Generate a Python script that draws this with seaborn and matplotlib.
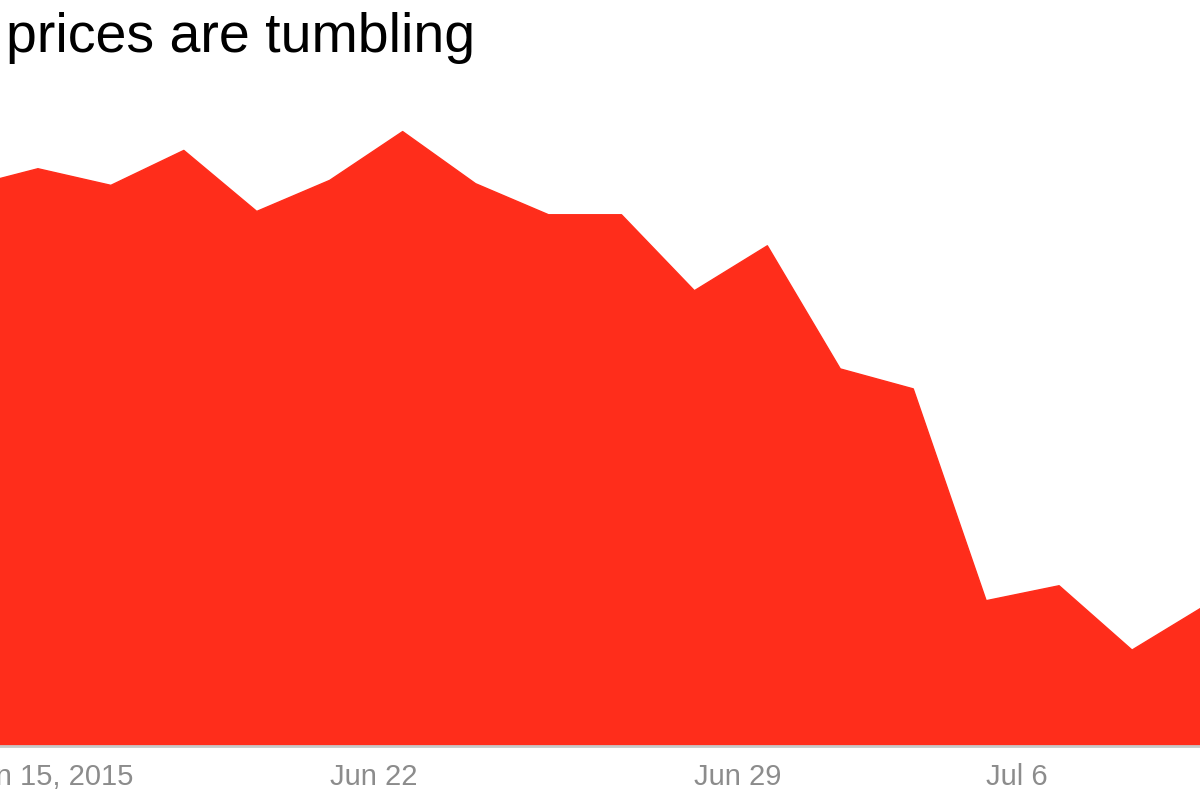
import matplotlib
matplotlib.use("Agg")
import matplotlib.pyplot as plt
import seaborn as sns
import pandas as pd

# trading days shown on the chart
dates = ["Jun 15", "Jun 16", "Jun 17", "Jun 18", "Jun 19",
         "Jun 22", "Jun 23", "Jun 24", "Jun 25", "Jun 26",
         "Jun 29", "Jun 30", "Jul 1", "Jul 2",
         "Jul 6", "Jul 7", "Jul 8", "Jul 9"]
prices = [59.97, 60.31, 60.01, 60.64, 59.54,
          60.10, 60.98, 60.04, 59.48, 59.48,
          58.11, 58.92, 56.70, 56.34,
          52.52, 52.79, 51.63, 52.43]
tick_days = ["Jun 15", "Jun 22", "Jun 29", "Jul 6"]
tick_labels = ["Jun 15, 2015", "Jun 22", "Jun 29", "Jul 6"]
title = "prices are tumbling"

red = "#ff2d1b"

df = pd.DataFrame({"day": range(len(dates)), "date": dates, "price": prices})

sns.set_style("white")
plt.rcParams["font.family"] = ["Liberation Sans", "DejaVu Sans"]

fig = plt.figure(figsize=(12, 8), dpi=100)
# axes runs a little past the left/right edges, like the cropped original
ax = fig.add_axes([-35 / 1200, 1 - 746 / 800, 1240 / 1200, (746 - 75) / 800])

sns.lineplot(data=df, x="day", y="price", color=red, linewidth=1, ax=ax)
ymin = 49.9
ax.fill_between(df["day"], df["price"], ymin, color=red, linewidth=0)

ax.set_xlim(0, len(dates) - 1)
ax.set_ylim(ymin, 62.0)

ax.set_xticks([dates.index(d) for d in tick_days])
ax.set_xticklabels(tick_labels, ha="left")
ax.tick_params(axis="x", length=0, pad=12, labelsize=21, labelcolor="#8c8c8c")
ax.set_yticks([])
ax.set_xlabel("")
ax.set_ylabel("")

for side in ["top", "left", "right"]:
    ax.spines[side].set_visible(False)
ax.spines["bottom"].set_color("#c8c8c8")
ax.spines["bottom"].set_linewidth(2)

fig.text(6 / 1200, 1 - 52 / 800, title, fontsize=40, color="black",
         ha="left", va="baseline")

fig.savefig("out.png", dpi=100)
